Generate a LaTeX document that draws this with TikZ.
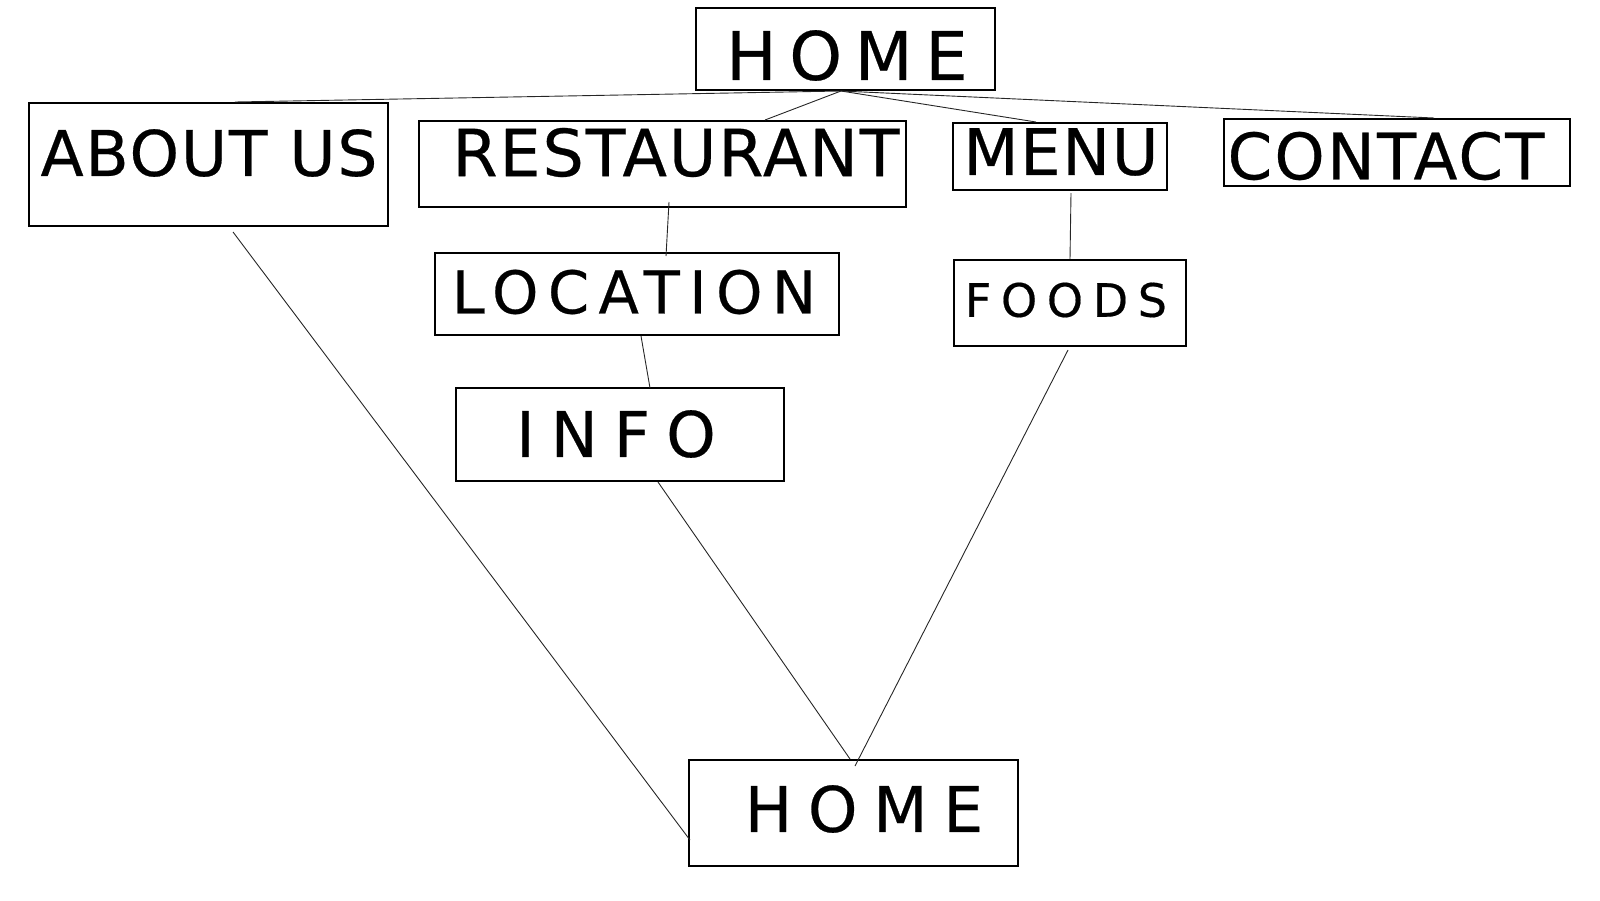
\documentclass[tikz,border=0pt]{standalone}
\usepackage{fontspec}
\setmainfont{DejaVu Sans}
\newfontfamily\sitefont[FakeBold=0.4]{DejaVu Sans}
\usepackage{tikz}
\usetikzlibrary{positioning}

\begin{document}
\begin{tikzpicture}[x=1pt, y=-1pt,
    page/.style={rectangle, draw, line width=2pt, inner sep=0pt},
    word/.style={inner sep=0pt, font=\sitefont},
    link/.style={line width=0.9pt, draw=black!85}]

  \useasboundingbox (0,0) rectangle (1600,900);

  % nodes
  \node [page, minimum width=299pt, minimum height=82pt] (home) at (845.5,49) {};
  \node [word] (hometxt) at (847,55.5)
  {\fontsize{67}{70}\selectfont\addfontfeature{LetterSpace=19}HOME};

  \node [page, minimum width=359pt, minimum height=123pt] (about) at (208.5,164.5) {};
  \node [word] (abouttxt) at (209,153)
  {\fontsize{63}{70}\selectfont\addfontfeature{LetterSpace=3}ABOUT US};

  \node [page, minimum width=487pt, minimum height=86pt] (rest) at (662.5,164) {};
  \node [word] (resttxt) at (676,152.5)
  {\fontsize{65}{70}\selectfont\addfontfeature{LetterSpace=3}RESTAURANT};

  \node [page, minimum width=214pt, minimum height=67pt] (menu) at (1060,156.5) {};
  \node [word] (menutxt) at (1061,152)
  {\fontsize{64}{70}\selectfont\addfontfeature{LetterSpace=2.5}MENU};

  \node [page, minimum width=346pt, minimum height=67pt] (contact) at (1397,152.5) {};
  \node [word] (contacttxt) at (1386,156)
  {\fontsize{64}{70}\selectfont\addfontfeature{LetterSpace=3.5}CONTACT};

  \node [page, minimum width=404pt, minimum height=82pt] (loc) at (637,294) {};
  \node [word] (loctxt) at (634,292)
  {\fontsize{59}{64}\selectfont\addfontfeature{LetterSpace=16}LOCATION};

  \node [page, minimum width=232pt, minimum height=86pt] (foods) at (1070,303) {};
  \node [word] (foodstxt) at (1066,300)
  {\fontsize{46}{50}\selectfont\addfontfeature{LetterSpace=21}FOODS};

  \node [page, minimum width=328pt, minimum height=93pt] (info) at (620,434.5) {};
  \node [word] (infotxt) at (616,434)
  {\fontsize{63}{70}\selectfont\addfontfeature{LetterSpace=25.5}INFO};

  \node [page, minimum width=329pt, minimum height=106pt] (back) at (853.5,813) {};
  \node [word] (backtxt) at (864,809)
  {\fontsize{63}{70}\selectfont\addfontfeature{LetterSpace=25}HOME};

  % edges
  \draw [link] ([xshift=-4.5pt]home.south) -- ([xshift=26.5pt]about.north);
  \draw [link] ([xshift=-4.5pt]home.south) -- ([xshift=102.5pt]rest.north);
  \draw [link] ([xshift=-4.5pt]home.south) -- ([xshift=-24pt]menu.north);
  \draw [link] ([xshift=-4.5pt]home.south) -- ([xshift=37pt]contact.north);

  \draw [link] ([xshift=6.5pt, yshift=6pt]rest.south) -- ([xshift=29pt, yshift=-4pt]loc.north);
  \draw [link] ([xshift=4pt]loc.south) -- ([xshift=30pt, yshift=-1pt]info.north);
  \draw [link] ([xshift=11pt, yshift=-2pt]menu.south) -- (foods.north);

  \draw [link] ([xshift=24.5pt, yshift=-5pt]about.south) -- ([xshift=2pt, yshift=-27pt]back.west);
  \draw [link] ([xshift=38pt]info.south) -- ([xshift=-3.5pt]back.north);
  \draw [link] ([xshift=-2pt, yshift=-3pt]foods.south) -- ([xshift=1.5pt, yshift=-7pt]back.north);
\end{tikzpicture}
\end{document}
